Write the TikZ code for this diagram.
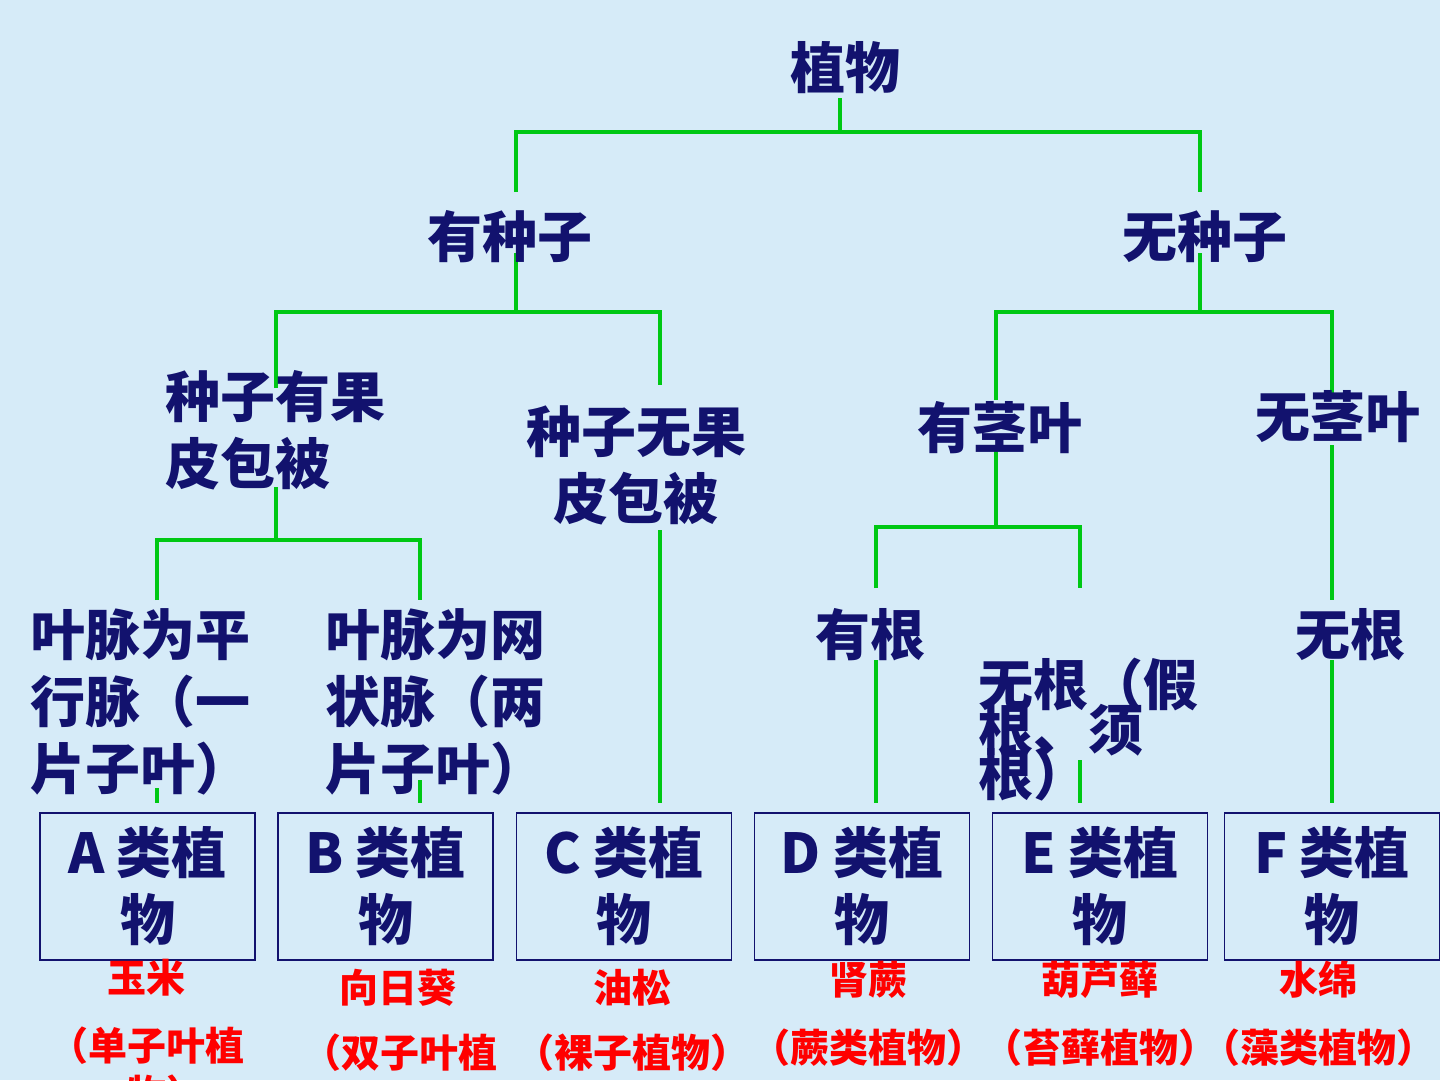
\documentclass[tikz,border=0pt]{standalone}
\usepackage{fontspec}
\newfontfamily\cjk{Noto Sans CJK SC}
\newfontfamily\cjkhalf{Noto Sans CJK SC}[RawFeature=+halt]
\newcommand\overlaplines{\lineskiplimit=-100pt\relax}
\definecolor{paper}{RGB}{214,235,248}
\definecolor{navy}{RGB}{18,18,110}
\definecolor{branch}{RGB}{0,200,20}
\definecolor{example}{RGB}{255,0,0}
\begin{document}
\begin{tikzpicture}[x=1pt,y=-1pt,
  lvl/.style={inner sep=0pt, text=navy, font=\cjk\bfseries\fontsize{55}{67}\selectfont},
  tight/.style={font={\cjk\bfseries\fontsize{55}{45}\selectfont\overlaplines}},
  cls/.style={draw=navy, line width=1.2pt, minimum width=215pt, minimum height=147pt,
    inner sep=0pt, align=center, text=navy, font=\cjk\bfseries\fontsize{55}{67}\selectfont},
  ex/.style={inner sep=0pt, text=example, font=\cjkhalf\bfseries\fontsize{39}{48}\selectfont},
  tree/.style={draw=branch, line width=4pt}]
% page
\fill[paper] (0,0) rectangle (1440,1080);
\useasboundingbox (0,0) rectangle (1440,1080);

% ---- branch points and line ends ----
\coordinate (r0) at (840,98);   \coordinate (r1) at (840,132);
\coordinate (sL) at (516,132);  \coordinate (sR) at (1200,132);
\coordinate (s1a) at (516,192); \coordinate (s1b) at (516,253); \coordinate (s1c) at (516,312);
\coordinate (s2a) at (1200,192);\coordinate (s2b) at (1200,253);\coordinate (s2c) at (1200,312);
\coordinate (aL) at (276,312);  \coordinate (aR) at (660,312);
\coordinate (a1) at (276,388);  \coordinate (a2) at (276,487);  \coordinate (a3) at (276,540);
\coordinate (g1) at (660,385);  \coordinate (g2) at (660,530);  \coordinate (g3) at (660,803);
\coordinate (bL) at (996,312);  \coordinate (bR) at (1332,312);
\coordinate (t1) at (996,400);  \coordinate (t2) at (996,445);  \coordinate (t3) at (996,527);
\coordinate (n1) at (1332,395); \coordinate (n2) at (1332,445); \coordinate (n3) at (1332,600);
\coordinate (n4) at (1332,660); \coordinate (n5) at (1332,803);
\coordinate (mL) at (157,540);  \coordinate (mR) at (420,540);
\coordinate (m1) at (157,600);  \coordinate (m2) at (157,788);  \coordinate (m3) at (157,803);
\coordinate (d1) at (420,600);  \coordinate (d2) at (420,780);  \coordinate (d3) at (420,803);
\coordinate (kL) at (876,527);  \coordinate (kR) at (1080,527);
\coordinate (k1) at (876,588);  \coordinate (k2) at (876,660);  \coordinate (k3) at (876,803);
\coordinate (e1) at (1080,588); \coordinate (e2) at (1080,760); \coordinate (e3) at (1080,803);

% ---- green branches ----
\path[tree] (r0) -- (r1);
\path[tree] (s1a) -- (sL) -- (sR) -- (s2a);
\path[tree] (s1b) -- (s1c);
\path[tree] (s2b) -- (s2c);
\path[tree] (a1) -- (aL) -- (aR) -- (g1);
\path[tree] (t1) -- (bL) -- (bR) -- (n1);
\path[tree] (a2) -- (a3);
\path[tree] (g2) -- (g3);
\path[tree] (t2) -- (t3);
\path[tree] (n2) -- (n3);
\path[tree] (n4) -- (n5);
\path[tree] (m1) -- (mL) -- (mR) -- (d1);
\path[tree] (m2) -- (m3);
\path[tree] (d2) -- (d3);
\path[tree] (k1) -- (kL) -- (kR) -- (e1);
\path[tree] (k2) -- (k3);
\path[tree] (e2) -- (e3);

% ---- key labels ----
\node[lvl] (plant) at (845,68) {植物};
\node[lvl] (seed) at (510,237) {有种子};
\node[lvl] (noseed) at (1205,237) {无种子};
\node[lvl, align=left, anchor=north west] (angio) at (165,370) {种子有果\\皮包被};
\node[lvl, align=center, anchor=north] (gymno) at (636,405) {种子无果\\皮包被};
\node[lvl] (stem) at (1000,428) {有茎叶};
\node[lvl] (nostem) at (1338,417) {无茎叶};
\node[lvl, align=left, anchor=north west] (mono) at (30,608) {叶脉为平\\行脉（一\\片子叶）};
\node[lvl, align=left, anchor=north west] (dico) at (325,608) {叶脉为网\\状脉（两\\片子叶）};
\node[lvl] (rooted) at (870,635) {有根};
\node[lvl] (rootless) at (1350,635) {无根};
\node[lvl, tight, align=left, anchor=north west]
  (falseroot) at (978,658) {无根（假\\根、须\\根）};

% ---- plant groups ----
\node[cls] (boxA) at (147.5,886.5) {A 类植\\物};
\node[cls] (boxB) at (385.5,886.5) {B 类植\\物};
\node[cls] (boxC) at (624,886.5) {C 类植\\物};
\node[cls] (boxD) at (862,886.5) {D 类植\\物};
\node[cls] (boxE) at (1100,886.5) {E 类植\\物};
\node[cls] (boxF) at (1332,886.5) {F 类植\\物};

% ---- examples ----
\node[ex] (exA) at (146,978) {玉米};
\node[ex, align=center, anchor=north] (grpA) at (157,1027) {（单子叶植\\物）};
\node[ex] (exB) at (398,988) {向日葵};
\node[ex] (grpB) at (410,1053) {（双子叶植};
\node[ex] (exC) at (632,988) {油松};
\node[ex] (grpC) at (632,1053) {（裸子植物）};
\node[ex] (exD) at (868,980) {肾蕨};
\node[ex] (grpD) at (868,1048) {（蕨类植物）};
\node[ex] (exE) at (1100,980) {葫芦藓};
\node[ex] (grpE) at (1100,1048) {（苔藓植物）};
\node[ex] (exF) at (1318,980) {水绵};
\node[ex] (grpF) at (1318,1048) {（藻类植物）};
\end{tikzpicture}
\end{document}
